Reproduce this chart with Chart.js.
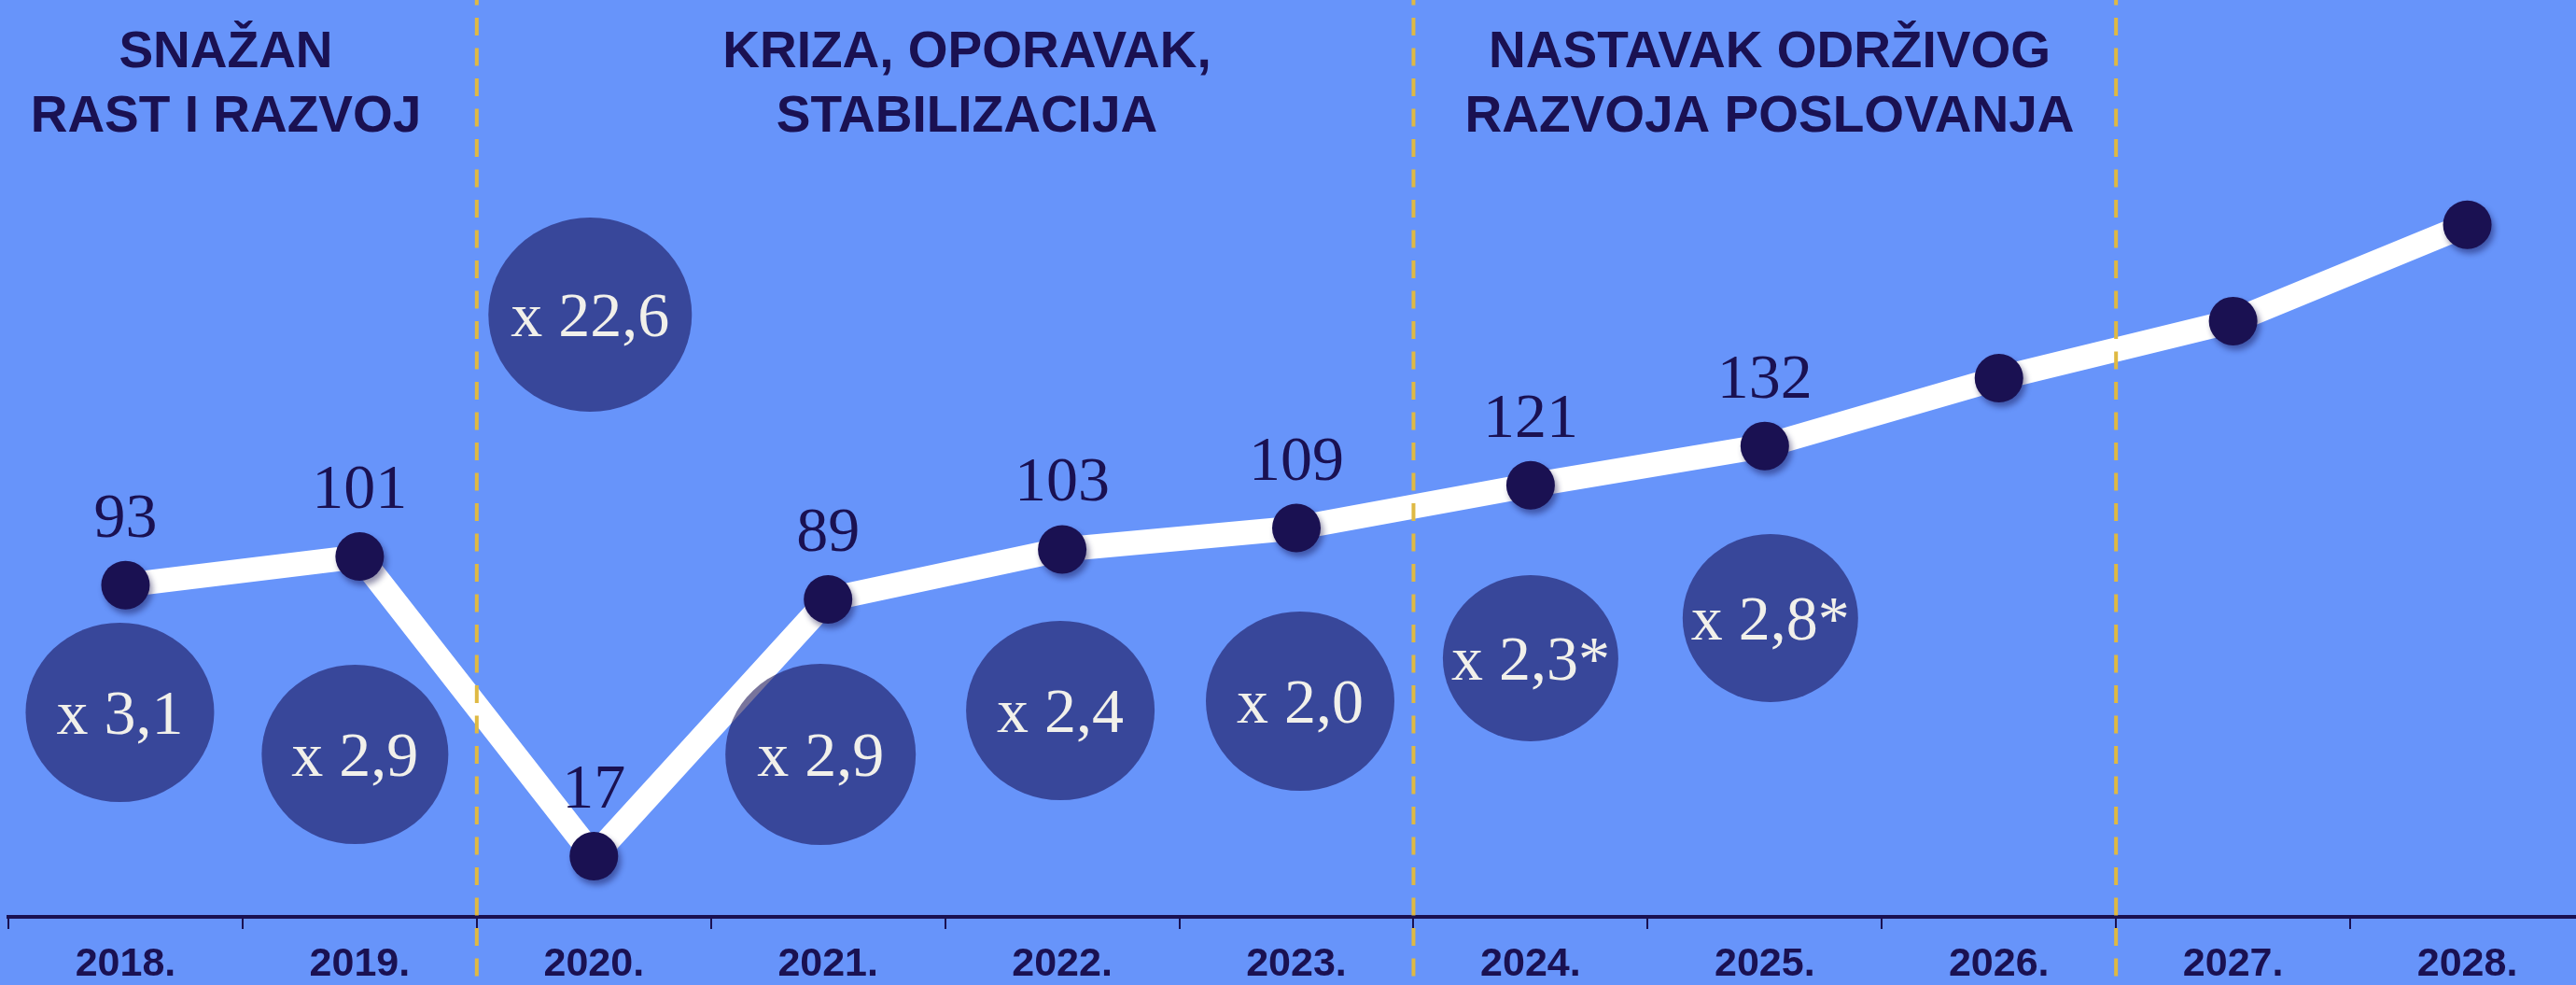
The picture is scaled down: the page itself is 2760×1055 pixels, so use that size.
<!DOCTYPE html>
<html>
<head>
<meta charset="utf-8">
<title>Snažan rast i razvoj</title>
<script src="https://cdn.jsdelivr.net/npm/chart.js"></script>
<style>
    html, body { margin: 0; padding: 0; background: #6794fa; overflow: hidden; }
    #chart { display: block; }
</style>
</head>
<body>
<canvas id="chart" width="2780" height="1072"></canvas>
<script>
var years = ["2018.", "2019.", "2020.", "2021.", "2022.", "2023.", "2024.", "2025.", "2026.", "2027.", "2028."];
var revenue = [93, 101, 17, 89, 103, 109, 121, 132, 151, 167, 194];
var revenueLabels = ["93", "101", "17", "89", "103", "109", "121", "132", "", "", ""];
var multipliers = ["x 3,1", "x 2,9", "x 22,6", "x 2,9", "x 2,4", "x 2,0", "x 2,3*", "x 2,8*"];
var sectionTitles = [
    ["SNAŽAN", "RAST I RAZVOJ"],
    ["KRIZA, OPORAVAK,", "STABILIZACIJA"],
    ["NASTAVAK ODRŽIVOG", "RAZVOJA POSLOVANJA"]
];
var sectionEnds = [1, 5, 8]; // last year of each period (index)

var navy = "#1a1152";
var sans = "'Liberation Sans', Arial, sans-serif";
var serif = "'Liberation Serif', 'Times New Roman', serif";

// where each multiplier bubble sits (offset from its year, centre y, radii)
var bubbleLayout = [
    {dx: -6, y: 763, rx: 101, ry: 96},
    {dx: -5, y: 808, rx: 100, ry: 96},
    {dx: -4, y: 337, rx: 109, ry: 104},
    {dx: -8, y: 808, rx: 102, ry: 97},
    {dx: -2, y: 761, rx: 101, ry: 96},
    {dx: 4, y: 751, rx: 101, ry: 96},
    {dx: 0, y: 705, rx: 94, ry: 89},
    {dx: 6, y: 662, rx: 94, ry: 90}
];
var headerX = [242, 1036, 1896];

var decorations = {
    id: "decorations",
    beforeDatasetDraw: function (chart, args) {
        if (args.index === 0) {
            var ctx = chart.ctx;
            ctx.save();
            ctx.shadowColor = "rgba(15, 12, 70, 0.45)";
            ctx.shadowBlur = 6;
            ctx.shadowOffsetX = 3;
            ctx.shadowOffsetY = 5;
        }
    },
    afterDatasetDraw: function (chart, args) {
        if (args.index === 0) {
            chart.ctx.restore();
        }
    },
    afterDatasetsDraw: function (chart) {
        var ctx = chart.ctx;
        var xScale = chart.scales.x;
        var points = chart.getDatasetMeta(0).data;

        ctx.save();
        // multiplier bubbles
        multipliers.forEach(function (text, i) {
            var b = bubbleLayout[i];
            var cx = xScale.getPixelForValue(i) + b.dx;
            ctx.beginPath();
            ctx.ellipse(cx, b.y, b.rx, b.ry, 0, 0, Math.PI * 2);
            ctx.fillStyle = "rgba(22, 15, 85, 0.58)";
            ctx.fill();
            ctx.fillStyle = "#f1f0ea";
            ctx.font = "68px " + serif;
            ctx.textAlign = "center";
            ctx.textBaseline = "alphabetic";
            ctx.fillText(text, cx, b.y + 23);
        });

        // values above the points
        ctx.fillStyle = navy;
        ctx.font = "68px " + serif;
        ctx.textAlign = "center";
        ctx.textBaseline = "alphabetic";
        revenueLabels.forEach(function (text, i) {
            if (text) {
                ctx.fillText(text, points[i].x, points[i].y - 52);
            }
        });
        ctx.restore();
    },
    afterDraw: function (chart) {
        var ctx = chart.ctx;
        var xScale = chart.scales.x;
        ctx.save();
        ctx.strokeStyle = "#dfb943";
        ctx.lineWidth = 4;
        ctx.setLineDash([19, 13.5]);
        ctx.lineDashOffset = 13.5;
        sectionEnds.forEach(function (i) {
            var x = (xScale.getPixelForValue(i) + xScale.getPixelForValue(i + 1)) / 2;
            ctx.beginPath();
            ctx.moveTo(x, 0);
            ctx.lineTo(x, chart.height);
            ctx.stroke();
        });
        ctx.setLineDash([]);

        ctx.fillStyle = navy;
        ctx.font = "bold 55px " + sans;
        ctx.textAlign = "center";
        ctx.textBaseline = "alphabetic";
        sectionTitles.forEach(function (lines, i) {
            ctx.fillText(lines[0], headerX[i], 72);
            ctx.fillText(lines[1], headerX[i], 141);
        });
        ctx.restore();
    }
};

new Chart("chart", {
    type: "line",
    data: {
        labels: years,
        datasets: [{
            data: revenue,
            showLine: false,
            pointRadius: 26,
            pointHoverRadius: 26,
            pointBorderWidth: 0,
            pointBackgroundColor: navy,
            clip: false
        }, {
            data: revenue,
            borderColor: "#ffffff",
            borderWidth: 26,
            borderJoinStyle: "round",
            borderCapStyle: "round",
            pointRadius: 0,
            tension: 0,
            fill: false,
            clip: false
        }]
    },
    options: {
        responsive: false,
        animation: false,
        events: [],
        layout: { autoPadding: false, padding: { left: 9, right: 11, top: 0, bottom: 0 } },
        plugins: {
            legend: { display: false },
            tooltip: { enabled: false }
        },
        scales: {
            x: {
                offset: true,
                grid: {
                    display: true,
                    offset: true,
                    drawOnChartArea: false,
                    drawTicks: true,
                    tickLength: 13,
                    color: navy,
                    lineWidth: 2
                },
                border: { display: true, color: navy, width: 4 },
                ticks: {
                    color: navy,
                    font: { family: sans, size: 43, weight: "bold", lineHeight: 1 },
                    padding: 17,
                    maxRotation: 0,
                    autoSkip: false
                }
            },
            y: { display: false, min: 0, max: 257 }
        }
    },
    plugins: [decorations]
});
</script>
</body>
</html>
